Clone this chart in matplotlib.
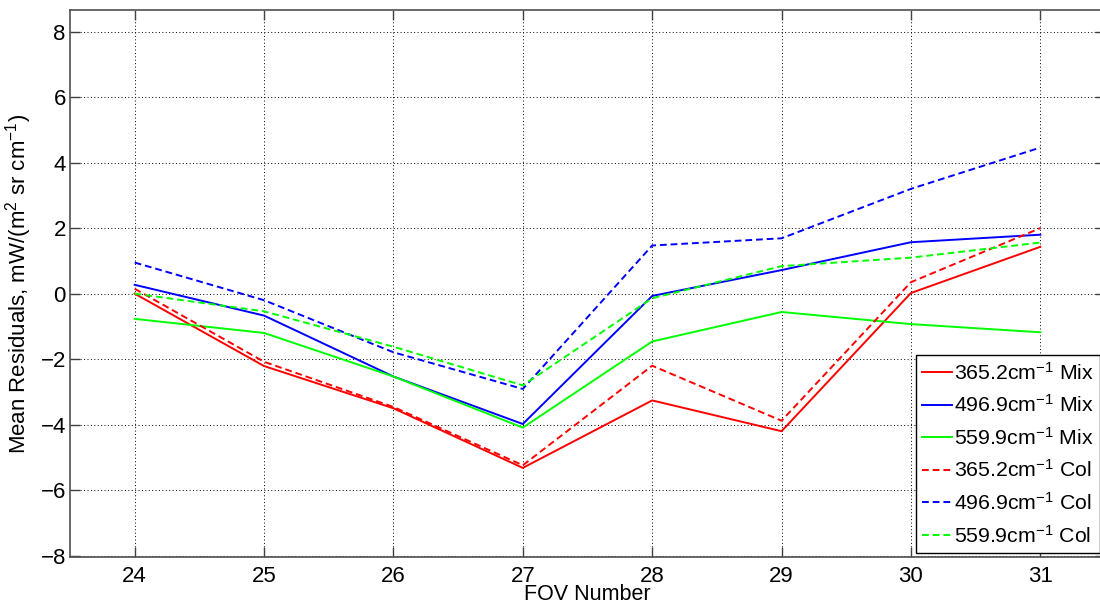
import numpy as np
import matplotlib
matplotlib.use('Agg')
import matplotlib.pyplot as plt

plt.rcParams['font.family'] = ['Liberation Sans', 'DejaVu Sans']
plt.rcParams['mathtext.fontset'] = 'custom'
plt.rcParams['mathtext.rm'] = 'Liberation Sans'
plt.rcParams['mathtext.it'] = 'Liberation Sans'

# FOV numbers along the x axis
fov = [24, 25, 26, 27, 28, 29, 30, 31]

# Mean residuals per channel, Mix and Col cases
mix_365 = [0.00, -2.21, -3.50, -5.32, -3.26, -4.20, 0.02, 1.43]
mix_497 = [0.27, -0.67, -2.53, -3.98, -0.07, 0.72, 1.57, 1.80]
mix_560 = [-0.77, -1.20, -2.53, -4.09, -1.46, -0.56, -0.93, -1.18]
col_365 = [0.15, -2.08, -3.46, -5.24, -2.20, -3.88, 0.35, 2.00]
col_497 = [0.95, -0.20, -1.79, -2.91, 1.47, 1.69, 3.20, 4.46]
col_560 = [0.00, -0.54, -1.62, -2.80, -0.14, 0.84, 1.10, 1.56]

labels = ['365.2cm$^{-1}$ Mix', '496.9cm$^{-1}$ Mix', '559.9cm$^{-1}$ Mix',
          '365.2cm$^{-1}$ Col', '496.9cm$^{-1}$ Col', '559.9cm$^{-1}$ Col']

fig = plt.figure(figsize=(11, 6.05), dpi=100)
ax = fig.add_axes([70/1100, 47.7/605, 1035/1100, 547.6/605])

series = [mix_365, mix_497, mix_560, col_365, col_497, col_560]
colors = ['#ff0000', '#0000ff', '#00ff00'] * 2
for i, (vals, col, lab) in enumerate(zip(series, colors, labels)):
    line, = ax.plot(fov, vals, color=col, lw=1.4, label=lab)
    if i >= 3:
        line.set_dashes([3.5, 2])

ax.set_xlim(23.5, 31.5)
ax.set_ylim(-8.05, 8.67)
ax.set_xticks(fov)
ax.set_yticks(np.arange(-8, 9, 2))
ax.set_yticklabels(['\u22128', '\u22126', '\u22124', '\u22122', '0', '2', '4', '6', '8'])

ax.grid(True, color='black', linestyle=(0, (1, 2.5)), linewidth=0.7)
ax.tick_params(direction='in', length=7, width=1, top=True, right=True,
               labelsize=16, color='#404040')
ax.tick_params(axis='x', pad=6)
ax.tick_params(axis='y', pad=3)
for s in ax.spines.values():
    s.set_color('#505050')
    s.set_linewidth(1.2)

ax.set_xlabel('FOV Number', fontsize=15.5, labelpad=-2)
ax.set_ylabel('Mean Residuals, mW/(m$^2$ sr cm$^{-1}$)', fontsize=16, labelpad=5)

leg = ax.legend(loc='lower left', bbox_to_anchor=(915.7/1100, 52.3/605),
                bbox_transform=fig.transFigure, fontsize=15.3, frameon=True,
                fancybox=False, framealpha=1, edgecolor='black',
                handlelength=1.4, handletextpad=0.1, labelspacing=0.5,
                borderpad=0.3, borderaxespad=0)
leg.get_frame().set_linewidth(1.0)

fig.savefig('out.png', dpi=100)
